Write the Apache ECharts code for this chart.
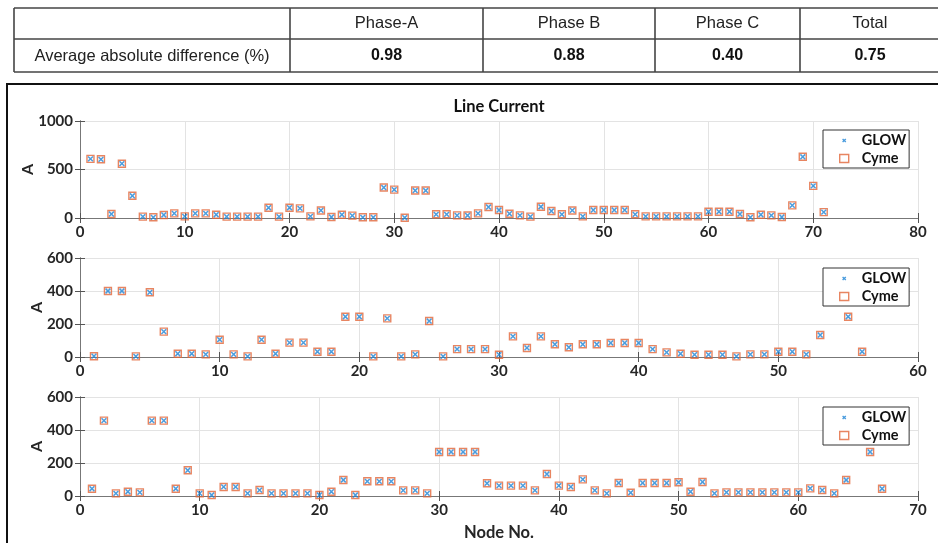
<!DOCTYPE html>
<html>
<head>
<meta charset="utf-8">
<script src="https://cdn.jsdelivr.net/npm/echarts@6/dist/echarts.min.js"></script>
<style>html,body{margin:0;padding:0;background:#fff;}#c{width:938px;height:543px;}</style>
</head>
<body>
<div id="c"></div>
<script>
// ---- data ----
const tableHeaders = ['Phase-A', 'Phase B', 'Phase C', 'Total'];
const tableRowLabel = 'Average absolute difference (%)';
const tableValues = ['0.98', '0.88', '0.40', '0.75'];

const glowA = [610,605,41,560,229,14,7,31,48,17,48,48,34,14,14,14,14,106,14,106,99,17,78,10,34,24,7,7,314,293,3,283,283,38,38,27,26,48,113,82,44,27,14,116,72,38,78,17,82,82,82,82,38,17,17,17,17,17,17,65,65,65,41,7,34,27,10,130,631,331,61];
const cymeA = [610,605,41,560,229,14,7,31,48,17,48,48,34,14,14,14,14,106,14,106,99,17,78,10,34,24,7,7,314,293,3,283,283,38,38,27,26,48,113,82,44,27,14,116,72,38,78,17,82,82,82,82,38,17,17,17,17,17,17,65,65,65,41,7,34,27,10,130,631,331,61];

const glowB = [5,400,400,4,392,154,20,20,16,105,16,4,105,20,87,87,32,32,244,244,4,234,4,16,218,4,48,48,48,14,125,55,125,77,59,77,77,85,85,85,48,28,20,14,14,14,4,16,16,32,32,16,133,null,244,32];
const cymeB = [5,400,400,4,392,154,20,20,16,105,16,4,105,20,87,87,32,32,244,244,4,234,4,16,218,4,48,48,48,14,125,55,125,77,59,77,77,85,85,85,48,28,20,14,14,14,4,16,16,32,32,16,133,null,244,32];

const glowC = [44,457,16,26,22,457,457,44,156,16,6,55,55,16,36,16,16,16,16,6,26,97,6,89,89,89,34,34,16,267,267,267,267,77,63,63,63,34,133,63,55,101,34,16,79,20,79,79,79,83,26,85,16,22,22,22,22,22,22,22,46,36,16,97,null,267,44];
const cymeC = [44,457,16,26,22,457,457,44,156,16,6,55,55,16,36,16,16,16,16,6,26,97,6,89,89,89,34,34,16,267,267,267,267,77,63,63,63,34,133,63,55,101,34,16,79,20,79,79,79,83,26,85,16,22,22,22,22,22,22,22,46,36,16,97,null,267,44];

const xMax = [80, 60, 70];
const yMax = [1000, 600, 600];
const yInterval = [500, 200, 200];
const titleText = 'Line Current';
const xName = 'Node No.';
const yName = 'A';
const seriesNames = ['GLOW', 'Cyme'];

// ---- styling ----
const BLUE = '#1f84d6';
const ORANGE = '#e2663a';
const FONT = 'Lato';
const xPath = 'path://M0,0M10,10M3,3L7,7M7,3L3,7';

function pairs(arr) {
  const out = [];
  arr.forEach((v, i) => { if (v !== null) out.push([i + 1, v]); });
  return out;
}

const grids = [
  {left: 80, right: 20, top: 121, height: 97, outerBoundsMode: 'none', containLabel: false},
  {left: 80, right: 20, top: 258, height: 99, outerBoundsMode: 'none', containLabel: false},
  {left: 80, right: 20, top: 397, height: 99, outerBoundsMode: 'none', containLabel: false}
];
const legendTops = [130, 268, 407];
const nameGaps = [44, 35, 35];

const xAxes = [], yAxes = [], series = [], legends = [];
const glowSets = [glowA, glowB, glowC];
const cymeSets = [cymeA, cymeB, cymeC];

for (let i = 0; i < 3; i++) {
  xAxes.push({
    gridIndex: i, type: 'value', min: 0, max: xMax[i], interval: 10, position: 'bottom',
    axisLine: {show: true, lineStyle: {color: '#555', width: 1}},
    axisTick: {show: true, inside: true, length: 5, lineStyle: {color: '#555'}},
    axisLabel: {color: '#262626', fontFamily: FONT, fontWeight: 'bold', fontSize: 15, margin: 7},
    splitLine: {show: true, lineStyle: {color: '#e3e3e3', width: 1}},
    name: i === 2 ? xName : '', nameLocation: 'middle', nameGap: 28, nameMoveOverlap: false,
    nameTextStyle: {color: '#262626', fontFamily: FONT, fontWeight: 'bold', fontSize: 16.5}
  });
  xAxes.push({
    gridIndex: i, type: 'value', min: 0, max: xMax[i], interval: 10, position: 'top',
    axisLine: {show: true, lineStyle: {color: '#777', width: 1}},
    axisTick: {show: true, inside: true, length: 5, lineStyle: {color: '#555'}},
    axisLabel: {show: false}, splitLine: {show: false}
  });
  yAxes.push({
    gridIndex: i, type: 'value', min: 0, max: yMax[i], interval: yInterval[i], position: 'left',
    axisLine: {show: true, lineStyle: {color: '#555', width: 1}},
    axisTick: {show: true, inside: true, length: 5, lineStyle: {color: '#555'}},
    axisLabel: {color: '#262626', fontFamily: FONT, fontWeight: 'bold', fontSize: 15, margin: 7,
      formatter: v => String(v)},
    splitLine: {show: true, lineStyle: {color: '#e3e3e3', width: 1}},
    name: yName, nameLocation: 'middle', nameGap: nameGaps[i], nameRotate: 90, nameMoveOverlap: false,
    nameTextStyle: {color: '#262626', fontFamily: FONT, fontWeight: 'bold', fontSize: 16}
  });
  yAxes.push({
    gridIndex: i, type: 'value', min: 0, max: yMax[i], interval: yInterval[i], position: 'right',
    axisLine: {show: true, lineStyle: {color: '#777', width: 1}},
    axisTick: {show: true, inside: true, length: 5, lineStyle: {color: '#555'}},
    axisLabel: {show: false}, splitLine: {show: false}
  });
  series.push({
    name: seriesNames[1], type: 'scatter', xAxisIndex: 2 * i, yAxisIndex: 2 * i,
    data: pairs(cymeSets[i]), symbol: 'rect', symbolSize: 7,
    itemStyle: {color: 'rgba(255,255,255,0)', borderColor: ORANGE, borderWidth: 1.4},
    emphasis: {disabled: true}, animation: false
  });
  series.push({
    name: seriesNames[0], type: 'scatter', xAxisIndex: 2 * i, yAxisIndex: 2 * i,
    data: pairs(glowSets[i]), symbol: xPath, symbolSize: 12,
    itemStyle: {color: 'rgba(255,255,255,0)', borderColor: BLUE, borderWidth: 1.5},
    emphasis: {disabled: true}, animation: false
  });
  legends.push({
    left: 823, top: legendTops[i], orient: 'vertical',
    data: [
      {name: seriesNames[0], icon: xPath, itemStyle: {color: 'rgba(255,255,255,0)', borderColor: BLUE, borderWidth: 1.4}},
      {name: seriesNames[1], icon: 'rect', itemStyle: {color: 'rgba(255,255,255,0)', borderColor: ORANGE, borderWidth: 1.4}}
    ],
    itemWidth: 9, itemHeight: 8, itemGap: 3,
    padding: [3, 3, 2, 16],
    backgroundColor: '#fff', borderColor: '#333', borderWidth: 1, borderRadius: 0,
    selectedMode: false,
    textStyle: {color: '#111', fontFamily: FONT, fontWeight: 'bold', fontSize: 14.5, padding: [0, 0, 0, 8]}
  });
}

// table graphics
const colX = [14, 290, 483, 655, 800, 940];
const rowY = [8, 39, 72];
const tableEls = [];
rowY.forEach(y => tableEls.push({type: 'line', shape: {x1: 14, y1: y, x2: 938, y2: y}, style: {stroke: '#444', lineWidth: 1.6}}));
colX.slice(0, 5).forEach(x => tableEls.push({type: 'line', shape: {x1: x, y1: 8, x2: x, y2: 72}, style: {stroke: '#444', lineWidth: 1.6}}));
tableHeaders.forEach((h, k) => tableEls.push({
  type: 'text', x: (colX[k + 1] + colX[k + 2]) / 2, y: 23,
  style: {text: h, fill: '#222', font: '16.5px "Liberation Sans", Arial, sans-serif', align: 'center', verticalAlign: 'middle'}
}));
tableEls.push({
  type: 'text', x: (colX[0] + colX[1]) / 2, y: 56,
  style: {text: tableRowLabel, fill: '#222', font: '16.5px "Liberation Sans", Arial, sans-serif', align: 'center', verticalAlign: 'middle'}
});
tableValues.forEach((v, k) => tableEls.push({
  type: 'text', x: (colX[k + 1] + colX[k + 2]) / 2, y: 56,
  style: {text: v, fill: '#111', font: 'bold 16px "Liberation Sans", Arial, sans-serif', align: 'center', verticalAlign: 'middle'}
}));
// figure frame
tableEls.push({type: 'rect', shape: {x: 7, y: 84, width: 945, height: 480}, style: {fill: 'none', stroke: '#111', lineWidth: 2}});
// title
tableEls.push({
  type: 'text', x: 499, y: 107,
  style: {text: titleText, fill: '#111', font: 'bold 16.5px Lato', align: 'center', verticalAlign: 'middle'}
});

const chart = echarts.init(document.getElementById('c'), null, {renderer: 'canvas'});
chart.setOption({
  animation: false,
  grid: grids,
  xAxis: xAxes,
  yAxis: yAxes,
  series: series,
  legend: legends,
  graphic: {elements: tableEls}
});
</script>
</body>
</html>
